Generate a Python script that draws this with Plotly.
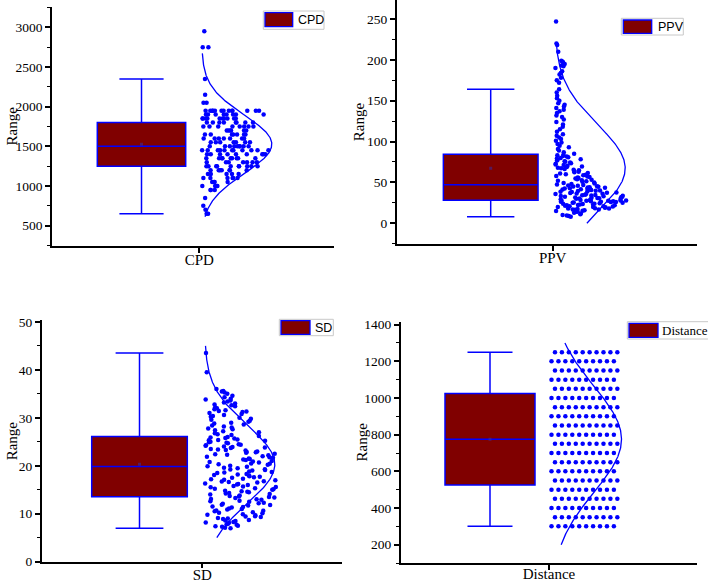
import numpy as np
import plotly.graph_objects as go

# ---------------- data ----------------
categories = ["CPD", "PPV", "SD", "Distance"]
y_title = "Range"

cpd_levels = [650, 700, 750, 850, 950, 1000, 1050, 1100, 1150, 1200, 1250, 1300, 1350,
              1400, 1450, 1500, 1550, 1600, 1650, 1700, 1750, 1800, 1850, 1900, 1950,
              2050, 2150, 2350, 2750, 2950]
cpd_counts = [2, 1, 1, 1, 3, 4, 4, 6, 5, 7, 10, 7, 9, 9, 11, 9, 7, 7, 7, 6, 8, 8, 10, 8, 13,
              2, 1, 1, 2, 1]

ppv_values = [
    8, 9, 9.5, 10, 11, 12, 13, 14, 14.5, 15,
    15.5, 16, 16.5, 17, 17, 17.5, 18, 18, 18.5, 19,
    19.5, 20, 20, 20.5, 21, 21, 21.5, 22, 22, 22.5,
    23, 23, 23.5, 24, 24, 24.5, 25, 25, 25.5, 26,
    26, 26.5, 26.5, 27, 27, 27.5, 27.5, 27.7, 27.8, 28,
    28.2, 28.5, 29, 29.3, 29.6, 30, 30.3, 30.6, 31, 31.3,
    31.6, 32, 32.3, 32.6, 33, 33.3, 33.6, 34, 34.3, 34.6,
    35, 35.4, 35.8, 36.2, 36.6, 37, 37.4, 37.8, 38.2, 38.6,
    39, 39.4, 39.8, 40.2, 40.6, 41, 41.4, 41.8, 42.2, 42.6,
    43, 43.4, 43.8, 44.2, 44.6, 45, 45.4, 45.8, 46.3, 46.8,
    47.5, 48, 48.7, 49.4, 50, 50.7, 51.4, 52, 52.7, 53.4,
    54, 54.7, 55.4, 56, 56.7, 57.4, 58, 58.7, 59.4, 60,
    60.8, 61.6, 62.4, 63.2, 64, 64.8, 65.6, 66.4, 67.2, 68,
    68.8, 69.6, 70.4, 71.2, 72, 72.8, 73.6, 74.4, 75.2, 76,
    76.8, 77.6, 78.4, 79.2, 80, 80.8, 81.6, 82.4, 83.2, 84,
    85, 87, 89, 91, 93, 95, 97, 99, 101, 103,
    105, 107, 109, 112, 115, 118, 121, 124, 127, 130,
    132, 135, 137, 139, 141, 143, 145, 147, 150, 153,
    156, 160, 164, 172, 175, 178, 182, 184, 186, 190,
    192, 193, 195, 197, 198, 199, 210, 218, 220, 247]

sd_values = [
    7.0, 7.1, 7.3, 7.4, 7.5, 7.7, 7.8, 7.9, 8.1, 8.2,
    8.3, 8.5, 8.6, 8.7, 8.9, 9.0, 9.1, 9.3, 9.4, 9.5,
    9.7, 9.8, 9.9, 10.1, 10.2, 10.3, 10.5, 10.6, 10.7, 10.9,
    11.0, 11.1, 11.3, 11.4, 11.5, 11.7, 11.8, 11.9, 12.1, 12.2,
    12.3, 12.5, 12.6, 12.7, 12.9, 13.0, 13.1, 13.3, 13.4, 13.5,
    13.6, 13.7, 13.8, 14.0, 14.1, 14.2, 14.3, 14.5, 14.6, 14.7,
    14.8, 15.0, 15.1, 15.2, 15.3, 15.5, 15.6, 15.7, 15.8, 16.0,
    16.1, 16.2, 16.3, 16.5, 16.6, 16.7, 16.8, 17.0, 17.1, 17.2,
    17.3, 17.5, 17.6, 17.7, 17.8, 18.0, 18.1, 18.2, 18.3, 18.5,
    18.6, 18.7, 18.8, 19.0, 19.1, 19.2, 19.3, 19.5, 19.6, 19.8,
    19.9, 20.0, 20.2, 20.3, 20.4, 20.5, 20.7, 20.8, 20.9, 21.0,
    21.2, 21.3, 21.4, 21.5, 21.7, 21.8, 21.9, 22.0, 22.2, 22.3,
    22.4, 22.5, 22.7, 22.8, 22.9, 23.0, 23.2, 23.3, 23.4, 23.5,
    23.7, 23.8, 23.9, 24.0, 24.2, 24.3, 24.4, 24.5, 24.7, 24.8,
    24.9, 25.0, 25.2, 25.3, 25.4, 25.5, 25.7, 25.8, 25.9, 26.0,
    26.2, 26.4, 26.6, 26.8, 27.0, 27.2, 27.4, 27.6, 27.8, 28.0,
    28.2, 28.4, 28.6, 28.8, 29.0, 29.2, 29.4, 29.6, 29.8, 30.0,
    30.2, 30.4, 30.6, 30.8, 31.0, 31.2, 31.3, 31.4, 31.6, 31.8,
    32.0, 32.2, 32.4, 32.6, 32.8, 33.0, 33.2, 33.4, 33.6, 33.8,
    34.0, 34.3, 34.6, 35.0, 35.3, 35.5, 35.6, 36.0, 39.5, 43.5]

distance_levels = [300, 350, 400, 450, 500, 550, 600, 650, 700, 750,
                   800, 850, 900, 950, 1000, 1050, 1100, 1150, 1200, 1250]
distance_counts = [10, 10, 10, 10, 10, 10, 10, 10, 10, 10,
                   10, 10, 10, 10, 10, 10, 10, 10, 10, 10]

# range over which the fitted normal curve is drawn
curve_lo = [613, 0, 5, 200]
curve_hi = [2672, 220, 45, 1300]

# ---------------- layout geometry (pixels) ----------------
W, H = 708, 583
panels = [
    dict(px=(52, 334), py=(7, 246), tick=199.3, yr=(244, 3256), dtick=500, minor=250,
         bc=-57.8, bw=88.4, spread=68, bandwidth=40, discrete=False, title_x=11, lab_off=-6,
         leg=((263.3, 11, 324, 29.3), (265, 12.7, 292.7, 26.7), 296, 20, "Arial, Liberation Sans", 12.5)),
    dict(px=(396.7, 696.7), py=(0, 244.3), tick=552.7, yr=(-25.7, 273.2), dtick=50, minor=25,
         bc=-62.0, bw=94.7, spread=72, bandwidth=7, discrete=False, title_x=359, lab_off=-6,
         leg=((621.3, 18.3, 683.3, 35), (623.3, 20, 651.7, 33.3), 655.7, 26.7, "Arial, Liberation Sans", 12.5)),
    dict(px=(41.7, 341.7), py=(320, 561.7), tick=202.3, yr=(0, 50.4), dtick=10, minor=5,
         bc=-62.8, bw=95.6, spread=72, bandwidth=2.5, discrete=False, title_x=11.5, lab_off=-6,
         leg=((279.3, 319.3, 333.3, 335.7), (281, 320.7, 310, 334.3), 313.3, 327.5, "Arial, Liberation Sans", 12.5)),
    dict(px=(400.7, 697.3), py=(321.7, 563.3), tick=549.0, yr=(98.5, 1416), dtick=200, minor=100,
         bc=-59.0, bw=90.0, spread=6.93, bandwidth=0, discrete=True, title_x=361, lab_off=-9,
         leg=((627.3, 321.7, 712, 339), (629, 323.3, 658, 337.3), 659.5, 330, "Times New Roman, Liberation Serif", 13)),
]

datasets = [
    np.repeat(np.array(cpd_levels, float), cpd_counts),
    np.array(ppv_values, float),
    np.array(sd_values, float),
    np.repeat(np.array(distance_levels, float), distance_counts),
]

BLUE = "#0000ff"
MAROON = "#800000"
SERIF = "Times New Roman, Liberation Serif, serif"
START = 2.5     # scatter starts this many px right of the category tick
AMP = 70.0      # max width of the normal curve (px)


def hash01(k):
    """Deterministic hash in [0, 1) used to scatter the dots sideways."""
    v = np.sin(k * 12.9898 + 78.233) * 43758.5453
    return v - np.floor(v)


def jitter(vals, spread, bw, start):
    """Jitter inside a width proportional to the local density of the values."""
    dens = np.exp(-0.5 * ((vals[:, None] - vals[None, :]) / bw) ** 2).sum(axis=1)
    width = spread * dens / dens.max()
    order = np.argsort(vals, kind="stable")
    xs = np.zeros(len(vals))
    for rank, i in enumerate(order):
        xs[i] = start + width[i] * hash01(rank + 1)
    return xs


def rows(vals, levels, step, start):
    xs = np.zeros(len(vals))
    seen = {}
    for i, v in enumerate(vals):
        k = seen.get(v, 0)
        seen[v] = k + 1
        idx = levels.index(v)
        xs[i] = start + k * step + (step / 2 if idx % 2 == 1 else 0)
    return xs


fig = go.Figure()
shapes = []
annotations = []

for i, (p, vals) in enumerate(zip(panels, datasets)):
    n = i + 1
    xa = "x" if n == 1 else f"x{n}"
    ya = "y" if n == 1 else f"y{n}"

    # box
    fig.add_trace(go.Box(
        y=vals, x=[p["bc"]] * len(vals), width=p["bw"], quartilemethod="exclusive",
        fillcolor=MAROON, line=dict(color=BLUE, width=1.5), whiskerwidth=0.5,
        boxpoints="outliers", marker=dict(opacity=0, size=1),
        xaxis=xa, yaxis=ya, showlegend=False, hoverinfo="skip"))

    # mean marker
    mean = float(np.mean(vals))
    sd = float(np.std(vals, ddof=1))
    fig.add_trace(go.Scatter(
        x=[p["bc"]], y=[mean], mode="markers",
        marker=dict(symbol="square", size=3, color="#3a2a9a", opacity=0.6),
        xaxis=xa, yaxis=ya, showlegend=False, hoverinfo="skip"))

    # data points
    if p["discrete"]:
        xs = rows(list(vals), [float(v) for v in distance_levels], p["spread"], START)
    else:
        xs = jitter(vals, p["spread"], p["bandwidth"], START)
    fig.add_trace(go.Scatter(
        x=xs, y=vals, mode="markers",
        marker=dict(color=BLUE, size=4.5, line=dict(width=0)),
        xaxis=xa, yaxis=ya, showlegend=False, hoverinfo="skip"))

    # normal curve
    yy = np.linspace(curve_lo[i], curve_hi[i], 300)
    xx = START + AMP * np.exp(-0.5 * ((yy - mean) / sd) ** 2)
    fig.add_trace(go.Scatter(
        x=xx, y=yy, mode="lines", line=dict(color=BLUE, width=1.3),
        xaxis=xa, yaxis=ya, showlegend=False, hoverinfo="skip"))

    dom_x = [p["px"][0] / W, p["px"][1] / W]
    dom_y = [1 - p["py"][1] / H, 1 - p["py"][0] / H]
    xr = [p["px"][0] - p["tick"], p["px"][1] - p["tick"]]

    fig.update_layout(**{
        ("xaxis" if n == 1 else f"xaxis{n}"): dict(
            domain=dom_x, range=xr, anchor=ya, showgrid=False, zeroline=False,
            automargin=False, fixedrange=True,
            showline=True, linecolor="black", linewidth=1.5,
            ticks="outside", ticklen=5, tickwidth=1.5, tickcolor="black",
            ticklabelstandoff=p["lab_off"],
            tickvals=[0], ticktext=[categories[i]],
            tickfont=dict(family=SERIF, size=15, color="black")),
        ("yaxis" if n == 1 else f"yaxis{n}"): dict(
            domain=dom_y, range=list(p["yr"]), anchor=xa, showgrid=False, zeroline=False,
            automargin=False, fixedrange=True,
            showline=True, linecolor="black", linewidth=1.5,
            ticks="outside", ticklen=5, tickwidth=1.5, tickcolor="black",
            dtick=p["dtick"], tick0=0,
            minor=dict(dtick=p["minor"], tick0=0, ticks="outside", ticklen=3,
                       tickwidth=1.2, tickcolor="black", showgrid=False),
            tickfont=dict(family=SERIF, size=13.5, color="black")),
    })

    # y-axis title, centred on the panel
    annotations.append(dict(xref="paper", yref="paper",
                            x=p["title_x"] / W, y=1 - (p["py"][0] + p["py"][1]) / 2 / H,
                            xanchor="center", yanchor="middle", showarrow=False,
                            textangle=-90, text=y_title,
                            font=dict(family=SERIF, size=15, color="black")))

    # legend (frame, patch, label)
    (fx0, fy0, fx1, fy1), (bx0, by0, bx1, by1), tx, ty, fam, fs = p["leg"]
    shapes.append(dict(type="rect", xref="paper", yref="paper",
                       x0=fx0 / W, x1=fx1 / W, y0=1 - fy1 / H, y1=1 - fy0 / H,
                       line=dict(color="#c8c8c8", width=1), fillcolor="white", layer="above"))
    shapes.append(dict(type="rect", xref="paper", yref="paper",
                       x0=bx0 / W, x1=bx1 / W, y0=1 - by1 / H, y1=1 - by0 / H,
                       line=dict(color=BLUE, width=1.3), fillcolor=MAROON, layer="above"))
    annotations.append(dict(xref="paper", yref="paper", x=tx / W, y=1 - ty / H,
                            xanchor="left", yanchor="middle", showarrow=False,
                            text=categories[i], font=dict(family=fam, size=fs, color="black")))

fig.update_layout(
    width=W, height=H, margin=dict(l=0, r=0, t=0, b=0),
    paper_bgcolor="white", plot_bgcolor="white",
    shapes=shapes, annotations=annotations, showlegend=False,
)

fig.write_html("out.html", config={"displayModeBar": False},
               post_script="document.body.style.margin='0';document.body.style.overflow='hidden';")
